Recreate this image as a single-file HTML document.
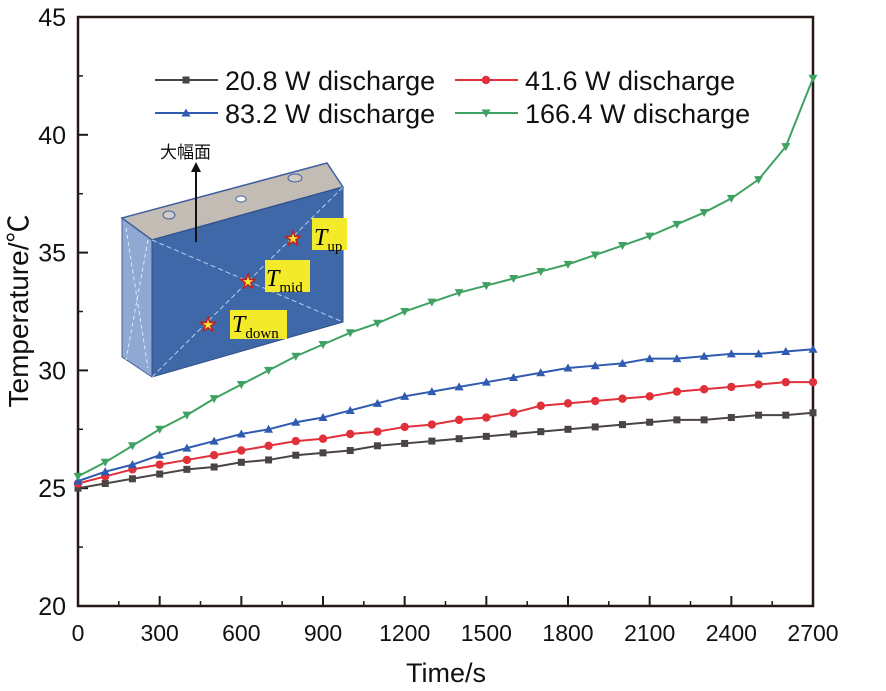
<!DOCTYPE html>
<html><head><meta charset="utf-8"><style>
body{margin:0;background:#fff;}
svg{display:block;font-family:"Liberation Sans","Noto Sans CJK SC",sans-serif;}
</style></head><body>
<svg id="chart" width="886" height="691" viewBox="0 0 886 691">
<g id="inset">
 <polygon points="122,218 152,240 152,377 122,357" fill="#8fa9d3" stroke="#3f5f9f" stroke-width="1"/>
 <line x1="126" y1="228" x2="148" y2="368" stroke="#dfe8f5" stroke-dasharray="4,3"/>
 <line x1="148" y1="240" x2="126" y2="360" stroke="#dfe8f5" stroke-dasharray="4,3"/>
 <polygon points="122,218 327,163 343,187 152,240" fill="#c3bcb4" stroke="#3f5f9f" stroke-width="1.5"/>
 <polygon points="152,240 343,187 343,322 152,377" fill="#3e68a8" stroke="#2f4f8a" stroke-width="1"/>
 <line x1="152" y1="240" x2="343" y2="322" stroke="#b8d0ee" stroke-dasharray="5,3"/>
 <line x1="152" y1="377" x2="343" y2="187" stroke="#b8d0ee" stroke-dasharray="5,3"/>
 <ellipse cx="169" cy="215" rx="6" ry="4" fill="#d0cbc4" stroke="#3f5f9f"/>
 <ellipse cx="295" cy="178" rx="7" ry="4" fill="#d0cbc4" stroke="#3f5f9f"/>
 <ellipse cx="241" cy="199" rx="5" ry="3" fill="#fff" stroke="#3f5f9f"/>
 <line x1="196" y1="242" x2="196" y2="170" stroke="#111" stroke-width="2"/>
 <polygon points="191,172 201,172 196,162" fill="#111"/>
 <text x="160" y="158" font-size="17" fill="#111">大幅面</text>
 <rect x="312" y="218" width="35" height="32" fill="#f3ea2a"/>
 <rect x="265" y="260" width="45" height="32" fill="#f3ea2a"/>
 <rect x="230" y="310" width="57" height="29" fill="#f3ea2a"/>
 <text x="314" y="245" font-family="Liberation Serif,serif" font-size="24" font-style="italic">T<tspan font-style="normal" font-size="15" dy="6">up</tspan></text>
 <text x="266" y="286" font-family="Liberation Serif,serif" font-size="24" font-style="italic">T<tspan font-style="normal" font-size="15" dy="6">mid</tspan></text>
 <text x="232" y="332" font-family="Liberation Serif,serif" font-size="24" font-style="italic">T<tspan font-style="normal" font-size="15" dy="6">down</tspan></text>
 <text x="293" y="244" font-size="16" fill="#f7e33a" stroke="#c4201d" stroke-width="1.5" text-anchor="middle">★</text>
 <text x="248" y="287" font-size="16" fill="#f7e33a" stroke="#c4201d" stroke-width="1.5" text-anchor="middle">★</text>
 <text x="208" y="330" font-size="16" fill="#f7e33a" stroke="#c4201d" stroke-width="1.5" text-anchor="middle">★</text>
</g>
<g id="axes"></g>
<g id="series"></g>
<g id="legend"></g>
</svg>
<script>
const times = [0,100,200,300,400,500,600,700,800,900,1000,1100,1200,1300,1400,1500,1600,1700,1800,1900,2000,2100,2200,2300,2400,2500,2600,2700];
const s208 = [25.0,25.2,25.4,25.6,25.8,25.9,26.1,26.2,26.4,26.5,26.6,26.8,26.9,27.0,27.1,27.2,27.3,27.4,27.5,27.6,27.7,27.8,27.9,27.9,28.0,28.1,28.1,28.2];
const s416 = [25.2,25.5,25.8,26.0,26.2,26.4,26.6,26.8,27.0,27.1,27.3,27.4,27.6,27.7,27.9,28.0,28.2,28.5,28.6,28.7,28.8,28.9,29.1,29.2,29.3,29.4,29.5,29.5];
const s832 = [25.3,25.7,26.0,26.4,26.7,27.0,27.3,27.5,27.8,28.0,28.3,28.6,28.9,29.1,29.3,29.5,29.7,29.9,30.1,30.2,30.3,30.5,30.5,30.6,30.7,30.7,30.8,30.9];
const s1664 = [25.5,26.1,26.8,27.5,28.1,28.8,29.4,30.0,30.6,31.1,31.6,32.0,32.5,32.9,33.3,33.6,33.9,34.2,34.5,34.9,35.3,35.7,36.2,36.7,37.3,38.1,39.5,42.4];
const xTicks = [0,300,600,900,1200,1500,1800,2100,2400,2700];
const yTicks = [20,25,30,35,40,45];
const names = ["20.8 W discharge","41.6 W discharge","83.2 W discharge","166.4 W discharge"];
const colors = ["#4a4443","#e0303a","#2f5bb0","#3fa262"];
const markers = ["square","circle","up","down"];

const L=78,R=813,T=17,B=606;
const X=v=>L+(v-0)/(2700-0)*(R-L);
const Y=v=>B-(v-20)/(45-20)*(B-T);
const NS="http://www.w3.org/2000/svg";
function mk(tag,attrs,parent){const e=document.createElementNS(NS,tag);for(const k in attrs)e.setAttribute(k,attrs[k]);parent.appendChild(e);return e;}
const ax=document.getElementById('axes');
let frame=mk('rect',{x:L,y:T,width:R-L,height:B-T,fill:'none',stroke:'#231815','stroke-width':2.5},ax);


xTicks.forEach((t,i)=>{
 const tk=mk('line',{x1:X(t),x2:X(t),y1:B,y2:B-10,stroke:'#231815','stroke-width':2},ax);
 
 
 if(i<xTicks.length-1){const m=mk('line',{x1:X(t+150),x2:X(t+150),y1:B,y2:B-5,stroke:'#231815','stroke-width':1.5},ax);
 
 }
 const lb=mk('text',{x:X(t),y:641,'font-size':23,'text-anchor':'middle',fill:'#111'},ax);lb.textContent=t;
 
 
});
yTicks.forEach((t,i)=>{
 const tk=mk('line',{x1:L,x2:L+10,y1:Y(t),y2:Y(t),stroke:'#231815','stroke-width':2},ax);
 
 
 if(i<yTicks.length-1){const m=mk('line',{x1:L,x2:L+5,y1:Y(t+2.5),y2:Y(t+2.5),stroke:'#231815','stroke-width':1.5},ax);
 
 }
 const lb=mk('text',{x:66,y:Y(t)+9,'font-size':25,'text-anchor':'end',fill:'#111'},ax);lb.textContent=t;
 
 
});
const xt=mk('text',{x:446,y:682,'font-size':27,'text-anchor':'middle',fill:'#111'},ax);xt.textContent='Time/s';


const yt=mk('text',{x:0,y:0,'font-size':28,'text-anchor':'middle',fill:'#111',transform:'translate(28,311) rotate(-90)'},ax);yt.textContent='Temperature/℃';



function marker(type,x,y,c,parent){
 let e;
 if(type==='square')e=mk('rect',{x:x-3.5,y:y-3.5,width:7,height:7,fill:c},parent);
 else if(type==='circle')e=mk('circle',{cx:x,cy:y,r:4.2,fill:c},parent);
 else if(type==='up')e=mk('polygon',{points:`${x-4.5},${y+3.5} ${x+4.5},${y+3.5} ${x},${y-4.5}`,fill:c},parent);
 else e=mk('polygon',{points:`${x-4.5},${y-3.5} ${x+4.5},${y-3.5} ${x},${y+4.5}`,fill:c},parent);
 return e;
}
const sg=document.getElementById('series');
[s208,s416,s832,s1664].forEach((s,k)=>{
 const g=mk('g',{},sg);
 
 
 const pl=mk('polyline',{points:s.map((v,i)=>X(times[i])+','+Y(v)).join(' '),fill:'none',stroke:colors[k],'stroke-width':2},g);
 
 
 s.forEach((v,i)=>{const m=marker(markers[k],X(times[i]),Y(v),colors[k],g);
 
 });
});
const lg=document.getElementById('legend');


const pos=[[155,80],[455,80],[155,113],[455,113]];
pos.forEach((p,k)=>{
 const g=mk('g',{},lg);
 
 
 mk('line',{x1:p[0],x2:p[0]+63,y1:p[1],y2:p[1],stroke:colors[k],'stroke-width':2},g);
 marker(markers[k],p[0]+31,p[1],colors[k],g);
 const t=mk('text',{x:p[0]+70,y:p[1]+10,'font-size':27,fill:'#111'},g);t.textContent=names[k];
});
</script>
</body></html>
